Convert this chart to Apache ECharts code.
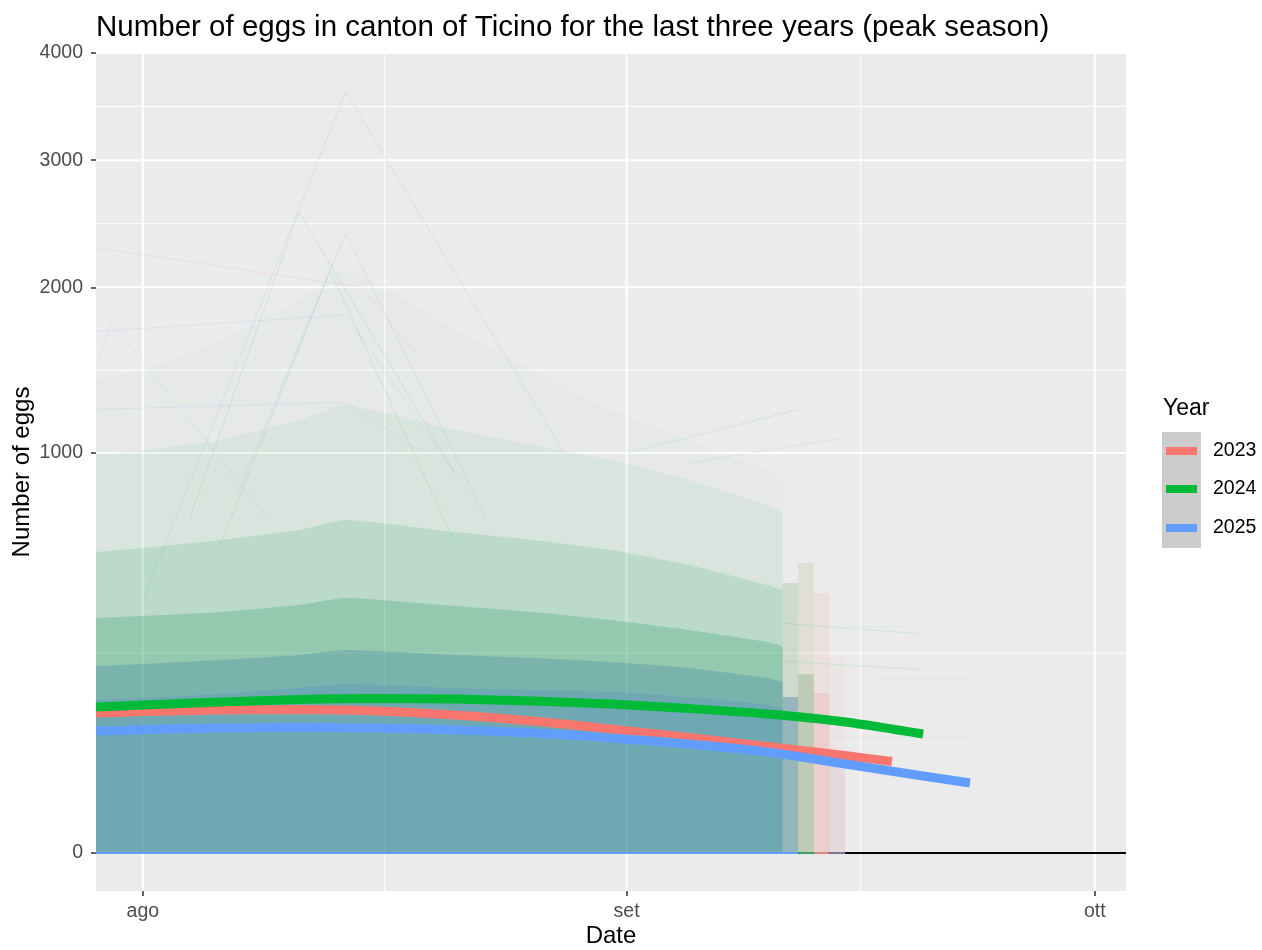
<!DOCTYPE html>
<html>
<head>
<meta charset="utf-8">
<script src="https://cdn.jsdelivr.net/npm/echarts@6/dist/echarts.min.js"></script>
<style>
html,body{margin:0;padding:0;background:#fff;}
#chart{width:1262px;height:950px;}
</style>
</head>
<body>
<div id="chart"></div>
<script>
// ---------- data (days counted from 1 August; eggs per trap) ----------
const xTickDays = [0, 31, 61];
const xTickLabels = ['ago', 'set', 'ott'];
const xMinorDays = [15.5, 46];
const yTicks = [0, 1000, 2000, 3000, 4000];
const yMinor = [250, 1457, 2475, 3482];

const years = ['2023', '2024', '2025'];

// smoothed trend per year
const days2023 = [-3, 0, 5, 10, 15, 20, 25, 30, 35, 40, 45, 48];
const eggs2023 = [122.5, 125.1, 127.8, 128.7, 126.0, 119.0, 108.9, 96.1, 83.4, 70.9, 59.4, 52.3];
const days2024 = [-3, 0, 5, 10, 15, 20, 25, 30, 35, 40, 45, 50];
const eggs2024 = [133.2, 136.9, 142.5, 147.3, 149.2, 148.2, 144.4, 138.8, 130.5, 120.8, 107.3, 88.5];
const days2025 = [-3, 0, 5, 10, 15, 20, 25, 30, 35, 40, 45, 50, 53];
const eggs2025 = [93.0, 95.3, 97.7, 98.4, 97.7, 94.6, 90.0, 82.7, 74.3, 63.8, 49.5, 37.1, 30.6];

// envelopes of the mass of individual trap curves (densest to faintest)
const envDays = [-3, 0, 5, 10, 13, 20, 25, 30, 35, 40, 41];
const env1 = [146.3, 150.2, 158.0, 170.2, 178.5, 170.2, 166.1, 162.0, 152.1, 136.9, 131.4];
const env2 = [218.6, 223.3, 232.8, 245.0, 257.6, 245.0, 237.7, 228.0, 213.9, 191.4, 182.8];
const env3 = [345.2, 351.1, 363.0, 384.4, 406.4, 381.3, 363.0, 339.3, 310.8, 278.3, 267.8];
const env4 = [566.3, 581.4, 612.3, 652.1, 693.1, 644.0, 612.3, 573.8, 518.4, 448.9, 432.3];
const env5 = [990.0, 1015.1, 1066.1, 1171.8, 1254.4, 1118.3, 1040.4, 965.3, 869.6, 756.9, 726.8];
const env6 = [1398.3, 1458.1, 1644.8, 1911.3, 2124.3, 1709.6, 1458.1, 1226.6, 1066.1, 916.8, 869.6];

// last-date columns of trap curves
const tailStart = [41, 42, 43, 44];
const tailEnd   = [42, 43, 44, 45];
const tailHigh  = [455.6, 525.6, 422.5, 240];
const tailLow   = [152, 200, 160, 60];

// a few individual traps readable above the mass
const trapA = [[0, 400], [13, 3620], [27, 1000]];
const trapB = [[3, 700], [10, 2570], [20, 900]];
const trapC = [[6, 800], [13, 2400], [22, 700]];
const trapD = [[5, 600], [12, 2120], [20, 600]];
const trapE = [[-3, 2290], [14, 2000], [18, 1500]];
const trapF = [[-3, 1500], [-2, 1760], [8, 700]];
const trapG = [[-3, 1700], [13, 1810], [20, 900]];
const trapH = [[-3, 1230], [13, 1270], [18, 1000]];
const trapI = [[31, 1000], [42, 1230]];
const trapJ = [[35, 950], [45, 1080]];
const trapK = [[41, 330], [50, 300]];
const trapL = [[41, 230], [50, 210]];
const trapM = [[45, 320], [53, 320]];
const trapN = [[45, 187], [53, 190]];
const trapO = [[44, 84], [53, 84]];

// zero-level segments at the end of the traps
const zeroDays = [-3, 42, 43, 44, 45];

// ---------- helpers ----------
const S = v => Math.sqrt(v);
const pairs = (xs, ys) => xs.map((x, i) => [x, S(ys[i])]);
const FONT = '"Liberation Sans", Arial, sans-serif';
const X0 = -3, X1 = 63, Y0 = -3.0, Y1 = Math.sqrt(4000);

const series = [];
const lineSeries = (data, color, width, z) => ({
  type: 'line', z: z, silent: true, symbol: 'none', data: data,
  lineStyle: { color: color, width: width }, emphasis: { disabled: true }
});

// grid lines (as plain series so they stay under the data)
yMinor.forEach(v => series.push(lineSeries([[X0, S(v)], [X1, S(v)]], '#ffffff', 1, 1)));
xMinorDays.forEach(v => series.push(lineSeries([[v, Y0], [v, Y1]], '#ffffff', 1, 1)));
yTicks.forEach(v => series.push(lineSeries([[X0, S(v)], [X1, S(v)]], '#ffffff', 2, 1)));
xTickDays.forEach(v => series.push(lineSeries([[v, Y0], [v, Y1]], '#ffffff', 2, 1)));

// black line at zero
series.push(lineSeries([[X0, 0], [X1, 0]], '#000000', 2, 2));

// density envelopes
const envLayers = [
  { d: env6, c: 'rgba(60,170,110,0.035)' },
  { d: env5, c: 'rgba(60,170,110,0.10)' },
  { d: env4, c: 'rgba(40,170,100,0.24)' },
  { d: env3, c: 'rgba(30,150,95,0.36)' },
  { d: env2, c: 'rgba(60,125,165,0.42)' },
  { d: env1, c: 'rgba(75,135,200,0.36)' }
];
envLayers.forEach(l => {
  series.push({
    type: 'line', z: 2, silent: true, symbol: 'none', smooth: 0.15,
    data: pairs(envDays, l.d),
    lineStyle: { width: 0 },
    areaStyle: { color: l.c, origin: 0 }
  });
});

// tail columns
const tailColors = ['rgba(90,150,90,0.28)', 'rgba(160,160,100,0.22)', 'rgba(248,118,109,0.13)', 'rgba(248,118,109,0.07)'];
const tailDenseColors = ['rgba(70,135,160,0.6)', 'rgba(110,150,90,0.38)', 'rgba(240,110,110,0.22)', 'rgba(150,110,140,0.12)'];
tailStart.forEach((s, i) => {
  [[tailHigh[i], tailColors[i]], [tailLow[i], tailDenseColors[i]]].forEach(([h, c]) => {
    series.push({
      type: 'line', z: 2, silent: true, symbol: 'none',
      data: [[s, 0], [s, S(h)], [tailEnd[i], S(h)], [tailEnd[i], 0]],
      lineStyle: { width: 0 },
      areaStyle: { color: c, origin: 0 }
    });
  });
});

// individual traps
const traps = [
  [trapA, 'rgba(97,156,255,0.16)'], [trapB, 'rgba(0,186,56,0.13)'], [trapC, 'rgba(97,156,255,0.16)'],
  [trapD, 'rgba(0,186,56,0.13)'], [trapE, 'rgba(248,118,109,0.12)'], [trapF, 'rgba(97,156,255,0.13)'],
  [trapG, 'rgba(97,156,255,0.13)'], [trapH, 'rgba(97,156,255,0.13)'], [trapI, 'rgba(0,186,56,0.12)'],
  [trapJ, 'rgba(0,186,56,0.10)'], [trapK, 'rgba(0,186,56,0.12)'], [trapL, 'rgba(0,186,56,0.12)'],
  [trapM, 'rgba(97,156,255,0.08)'], [trapN, 'rgba(97,156,255,0.08)'], [trapO, 'rgba(97,156,255,0.08)']
];
traps.forEach(([t, c]) => series.push(lineSeries(t.map(p => [p[0], S(p[1])]), c, 1, 2)));

// zero segments
const zeroColors = ['#619CFF', '#3aa860', '#e08a8a', '#8a7a9a'];
for (let i = 0; i < zeroDays.length - 1; i++) {
  series.push(lineSeries([[zeroDays[i], 0], [zeroDays[i + 1], 0]], zeroColors[i], 2, 3));
}

// smoothed trends
const trendColors = ['#F8766D', '#00BA38', '#619CFF'];
const trendData = [[days2023, eggs2023], [days2024, eggs2024], [days2025, eggs2025]];
years.forEach((y, i) => {
  series.push({
    name: y, type: 'line', z: 4 + i, symbol: 'none', smooth: 0.3, silent: true,
    data: pairs(trendData[i][0], trendData[i][1]),
    lineStyle: { color: trendColors[i], width: 9, cap: 'butt' },
    itemStyle: { color: trendColors[i] }
  });
});

const legendBase = {
  orient: 'vertical', left: 1166, icon: 'rect',
  itemWidth: 31, itemHeight: 8, itemGap: 0,
  textStyle: { fontFamily: FONT, fontSize: 19.5, color: '#000', lineHeight: 22, padding: [0, 0, 0, 11] },
  padding: 0, selectedMode: false
};

const chart = echarts.init(document.getElementById('chart'), null, { renderer: 'canvas' });
chart.setOption({
  animation: false,
  backgroundColor: '#ffffff',
  title: {
    text: 'Number of eggs in canton of Ticino for the last three years (peak season)',
    left: 91, top: 8,
    textStyle: { fontFamily: FONT, fontSize: 29.5, fontWeight: 'normal', color: '#000' }
  },
  grid: {
    left: 96, top: 53, width: 1030, height: 838,
    outerBoundsMode: 'none', containLabel: false,
    show: true, backgroundColor: '#EBEBEB', borderWidth: 0
  },
  xAxis: {
    type: 'value', min: X0, max: X1,
    name: 'Date', nameLocation: 'middle', nameGap: 33, nameMoveOverlap: false,
    nameTextStyle: { fontFamily: FONT, fontSize: 24, color: '#000' },
    axisLine: { show: false, onZero: false },
    splitLine: { show: false },
    axisTick: { show: true, length: 5, customValues: xTickDays, lineStyle: { color: '#333', width: 1.5 } },
    axisLabel: {
      customValues: xTickDays, margin: 11,
      fontFamily: FONT, fontSize: 19.5, color: '#4D4D4D',
      formatter: v => xTickLabels[xTickDays.indexOf(v)]
    }
  },
  yAxis: {
    type: 'value', min: Y0, max: Y1,
    name: 'Number of eggs', nameLocation: 'middle', nameGap: 62, nameRotate: 90, nameMoveOverlap: false,
    nameTextStyle: { fontFamily: FONT, fontSize: 24, color: '#000' },
    axisLine: { show: false, onZero: false },
    splitLine: { show: false },
    axisTick: { show: true, length: 5, customValues: yTicks.map(S), lineStyle: { color: '#333', width: 1.5 } },
    axisLabel: {
      customValues: yTicks.map(S), margin: 13,
      fontFamily: FONT, fontSize: 19.5, color: '#4D4D4D',
      formatter: v => String(Math.round(v * v))
    }
  },
  legend: years.map((y, i) => Object.assign({}, legendBase, { data: [y], top: [440, 478, 517][i] })),
  graphic: [
    { type: 'rect', left: 1162, top: 432, shape: { width: 39, height: 116 }, style: { fill: '#CCCCCC' }, z: -1, silent: true },
    { type: 'text', left: 1163, top: 397, style: { text: 'Year', fontFamily: FONT, fontSize: 23, fill: '#000' }, silent: true }
  ],
  series: series
});
</script>
</body>
</html>
